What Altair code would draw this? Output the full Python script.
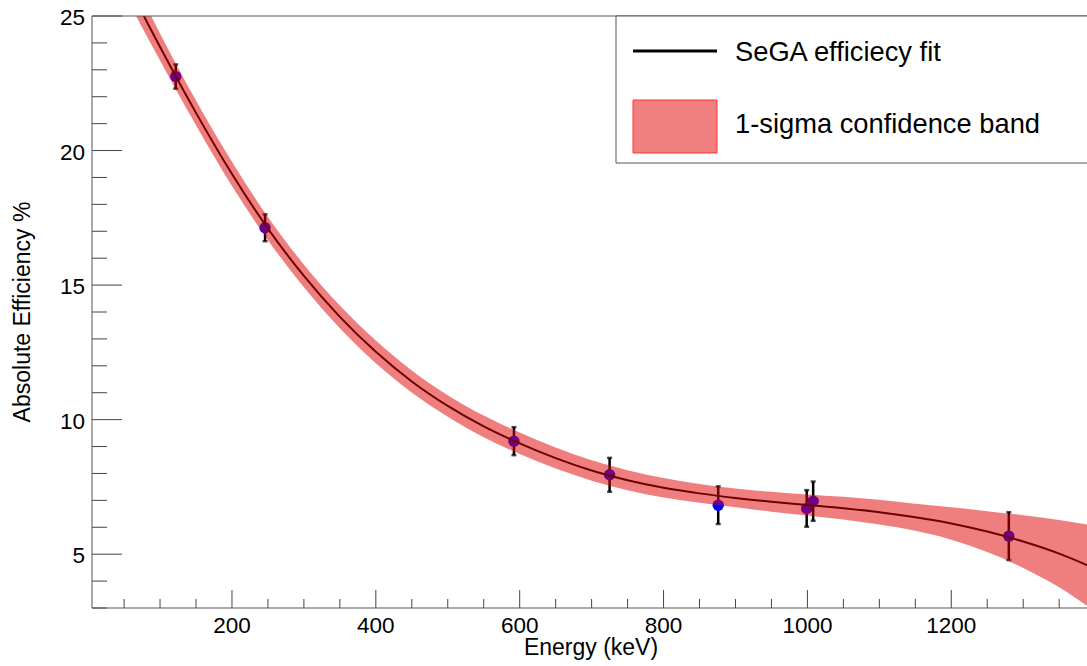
import altair as alt
import pandas as pd

# ---- fitted efficiency curve (keV, %) ----
fit_energy = [60, 77, 100, 122, 150, 200, 250, 300, 350, 400, 450, 500, 550, 600,
              650, 700, 750, 800, 850, 900, 950, 1000, 1050, 1100, 1150, 1200, 1250,
              1300, 1350, 1390]
fit_eff = [25.95, 25.03, 23.85, 22.75, 21.40, 19.13, 17.10, 15.34, 13.82, 12.52, 11.42,
           10.51, 9.75, 9.12, 8.57, 8.11, 7.75, 7.47, 7.26, 7.09, 6.95, 6.83, 6.71, 6.56,
           6.37, 6.14, 5.84, 5.47, 5.02, 4.58]
band_low = [25.35, 24.48, 23.35, 22.27, 20.94, 18.68, 16.67, 14.92, 13.40, 12.10, 11.01,
            10.11, 9.35, 8.72, 8.18, 7.73, 7.38, 7.11, 6.91, 6.74, 6.58, 6.44, 6.29, 6.10,
            5.87, 5.54, 5.08, 4.49, 3.77, 3.06]
band_high = [26.55, 25.58, 24.35, 23.23, 21.86, 19.58, 17.53, 15.76, 14.24, 12.94, 11.83,
             10.91, 10.15, 9.52, 8.96, 8.49, 8.12, 7.83, 7.61, 7.44, 7.32, 7.22, 7.13, 7.02,
             6.87, 6.74, 6.60, 6.45, 6.27, 6.10]

# ---- measured points ----
pt_energy = [121.8, 246, 592, 725, 876, 999, 1008, 1280]
pt_eff = [22.75, 17.13, 9.2, 7.95, 6.82, 6.70, 6.97, 5.67]
pt_err = [0.45, 0.5, 0.52, 0.63, 0.7, 0.68, 0.73, 0.89]

# ---- axis ticks / labels ----
x_major = [200, 400, 600, 800, 1000, 1200]
x_minor = [50, 100, 150, 250, 300, 350, 450, 500, 550, 650, 700, 750, 850, 900, 950,
           1050, 1100, 1150, 1250, 1300, 1350]
y_major = [5, 10, 15, 20, 25]
y_minor = [3, 4, 6, 7, 8, 9, 11, 12, 13, 14, 16, 17, 18, 19, 21, 22, 23, 24]

x_title = "Energy (keV)"
y_title = "Absolute Efficiency %"
legend_labels = ["SeGA efficiecy fit", "1-sigma confidence band"]

FONT = "Liberation Sans"
W, H = 995, 592
xs = alt.Scale(domain=[5.4, 1388.7], nice=False, zero=False)
ys = alt.Scale(domain=[3, 25], nice=False, zero=False)

fit_df = pd.DataFrame({"E": fit_energy, "eff": fit_eff, "lo": band_low, "hi": band_high})
pts = pd.DataFrame({"E": pt_energy, "eff": pt_eff, "err": pt_err})
pts["lo"] = pts["eff"] - pts["err"]
pts["hi"] = pts["eff"] + pts["err"]

one = pd.DataFrame({"a": [0]})
frame_col = "#555555"
tick_col = "#444444"

# frame
top_line = alt.Chart(one).mark_rule(color=frame_col, strokeWidth=1).encode(
    x=alt.value(0), x2=alt.value(W), y=alt.value(0))
left_line = alt.Chart(one).mark_rule(color=frame_col, strokeWidth=1).encode(
    x=alt.value(0), y=alt.value(0), y2=alt.value(H))
bottom_line = alt.Chart(one).mark_rule(color=frame_col, strokeWidth=1).encode(
    x=alt.value(0), x2=alt.value(W), y=alt.value(H))

# ticks (drawn inward, ROOT style)
ymaj = alt.Chart(pd.DataFrame({"v": y_major})).mark_rule(color=tick_col).encode(
    y=alt.Y("v:Q", scale=ys, axis=None), x=alt.value(0), x2=alt.value(30))
ymin = alt.Chart(pd.DataFrame({"v": y_minor})).mark_rule(color=tick_col).encode(
    y=alt.Y("v:Q", scale=ys, axis=None), x=alt.value(0), x2=alt.value(15))
xmaj = alt.Chart(pd.DataFrame({"v": x_major})).mark_rule(color=tick_col).encode(
    x=alt.X("v:Q", scale=xs, axis=None), y=alt.value(H), y2=alt.value(H - 18))
xmin = alt.Chart(pd.DataFrame({"v": x_minor})).mark_rule(color=tick_col).encode(
    x=alt.X("v:Q", scale=xs, axis=None), y=alt.value(H), y2=alt.value(H - 9))

# tick labels
xlab = alt.Chart(pd.DataFrame({"v": x_major})).mark_text(
    font=FONT, fontSize=22.5, color="black", align="center", baseline="alphabetic").encode(
    x=alt.X("v:Q", scale=xs, axis=None), y=alt.value(H + 25),
    text=alt.Text("v:Q", format="d"))
ylab = alt.Chart(pd.DataFrame({"v": y_major})).mark_text(
    font=FONT, fontSize=22.5, color="black", align="right", baseline="middle", dy=2).encode(
    y=alt.Y("v:Q", scale=ys, axis=None), x=alt.value(-7),
    text=alt.Text("v:Q", format="d"))

# axis titles
xtit = alt.Chart(pd.DataFrame({"t": [x_title]})).mark_text(
    font=FONT, fontSize=23, color="black", align="center", baseline="alphabetic").encode(
    x=alt.value(499), y=alt.value(H + 47), text="t:N")
ytit = alt.Chart(pd.DataFrame({"t": [y_title]})).mark_text(
    font=FONT, fontSize=23, color="black", align="center", baseline="alphabetic",
    angle=270).encode(
    x=alt.value(-62), y=alt.value(H / 2), text="t:N")

# error bars
ebar = alt.Chart(pts).mark_rule(color="black", strokeWidth=2.5).encode(
    x=alt.X("E:Q", scale=xs, axis=None),
    y=alt.Y("lo:Q", scale=ys, axis=None), y2="hi:Q")
cap_lo = alt.Chart(pts).mark_tick(color="black", orient="horizontal", size=5, thickness=2.5).encode(
    x=alt.X("E:Q", scale=xs, axis=None), y=alt.Y("lo:Q", scale=ys, axis=None))
cap_hi = alt.Chart(pts).mark_tick(color="black", orient="horizontal", size=5, thickness=2.5).encode(
    x=alt.X("E:Q", scale=xs, axis=None), y=alt.Y("hi:Q", scale=ys, axis=None))

points = alt.Chart(pts).mark_circle(color="#0000ff", opacity=1, size=130).encode(
    x=alt.X("E:Q", scale=xs, axis=None), y=alt.Y("eff:Q", scale=ys, axis=None))

line = alt.Chart(fit_df).mark_line(color="black", strokeWidth=2, interpolate="monotone",
                                   clip=True).encode(
    x=alt.X("E:Q", scale=xs, axis=None), y=alt.Y("eff:Q", scale=ys, axis=None))

band = alt.Chart(fit_df).mark_area(color="#e00000", opacity=0.5, interpolate="monotone",
                                   clip=True).encode(
    x=alt.X("E:Q", scale=xs, axis=None),
    y=alt.Y("lo:Q", scale=ys, axis=None), y2="hi:Q")

# legend box (decoration)
leg_box = alt.Chart(one).mark_rect(fill="white", stroke=frame_col, strokeWidth=1).encode(
    x=alt.value(524), x2=alt.value(W + 5), y=alt.value(0), y2=alt.value(147))
leg_line = alt.Chart(one).mark_rule(color="black", strokeWidth=3).encode(
    x=alt.value(541), x2=alt.value(625), y=alt.value(35))
leg_rect = alt.Chart(one).mark_rect(fill="#f08080", stroke="#ff3030", strokeWidth=1).encode(
    x=alt.value(541), x2=alt.value(625), y=alt.value(84), y2=alt.value(137))
leg_text1 = alt.Chart(pd.DataFrame({"label": [legend_labels[0]]})).mark_text(
    font=FONT, fontSize=27.3, align="left", baseline="alphabetic", color="black").encode(
    x=alt.value(643), y=alt.value(45), text="label:N")
leg_text2 = alt.Chart(pd.DataFrame({"label": [legend_labels[1]]})).mark_text(
    font=FONT, fontSize=27.3, align="left", baseline="alphabetic", color="black").encode(
    x=alt.value(643), y=alt.value(117), text="label:N")

chart = alt.layer(
    ymaj, ymin, xmaj, xmin, ebar, cap_lo, cap_hi, points, line, band,
    top_line, left_line, bottom_line, xlab, ylab, xtit, ytit,
    leg_box, leg_line, leg_rect, leg_text1, leg_text2
).properties(
    width=W, height=H,
    autosize=alt.AutoSizeParams(type="none"),
    padding={"left": 92, "top": 16, "right": 0, "bottom": 58},
    background="white",
).configure_view(stroke=None)

chart.save("out.html", embed_options={"renderer": "svg", "actions": False})
